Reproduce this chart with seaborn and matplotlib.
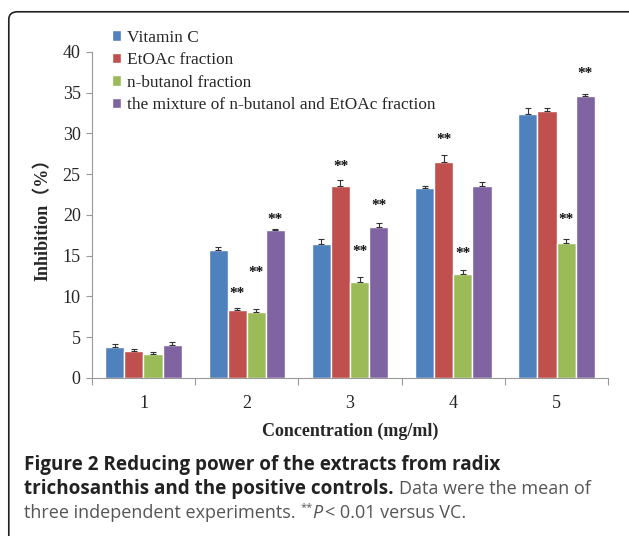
import pandas as pd
import matplotlib.pyplot as plt
import seaborn as sns
from matplotlib.patches import FancyBboxPatch
from matplotlib.ticker import FixedLocator

concentrations = ["1", "2", "3", "4", "5"]
series = ["Vitamin C", "EtOAc fraction", "n-butanol fraction",
          "the mixture of n-butanol and EtOAc fraction"]
vitamin_c = [3.8, 15.7, 16.4, 23.3, 32.4]
etoac = [3.3, 8.3, 23.6, 26.5, 32.7]
nbutanol = [2.9, 8.1, 11.8, 12.7, 16.6]
mixture = [4.0, 18.1, 18.5, 23.6, 34.6]
err_vc = [0.3, 0.4, 0.7, 0.3, 0.7]
err_etoac = [0.3, 0.3, 0.7, 0.8, 0.4]
err_nbut = [0.3, 0.3, 0.6, 0.5, 0.5]
err_mix = [0.4, 0.2, 0.5, 0.4, 0.3]
# (series index, concentration index, y of the "**" mark)
stars = [(1, 1, 10.4), (2, 1, 12.9), (3, 1, 19.4),
         (1, 2, 25.9), (2, 2, 15.5), (3, 2, 21.2),
         (1, 3, 29.2), (2, 3, 15.3),
         (2, 4, 19.4), (3, 4, 37.3)]

colors = ["#4F81BD", "#C0504D", "#9BBB59", "#8064A2"]
values = [vitamin_c, etoac, nbutanol, mixture]
errors = [err_vc, err_etoac, err_nbut, err_mix]

rows = []
for s, vals in zip(series, values):
    for c, v in zip(concentrations, vals):
        rows.append({"conc": c, "series": s, "value": v})
df = pd.DataFrame(rows)

sns.set_style("white")
serif = ["Liberation Serif", "Noto Sans CJK SC"]
plt.rcParams["font.family"] = serif

fig = plt.figure(figsize=(6.29, 5.36), dpi=100)
ax = fig.add_axes([0.146, 0.295, 0.821, 0.608])

sns.barplot(data=df, x="conc", y="value", hue="series", palette=colors,
            errorbar=None, width=0.74, saturation=1, ax=ax)
bar_groups = list(ax.containers)

# error bars (upper side only) and significance marks
for i, cont in enumerate(bar_groups):
    for j, bar in enumerate(cont):
        xc = bar.get_x() + bar.get_width() / 2
        ax.errorbar(xc, bar.get_height(), yerr=[[0], [errors[i][j]]],
                    fmt="none", ecolor="#333333", elinewidth=0.8,
                    capsize=2, capthick=0.8)
for i, j, y in stars:
    bar = bar_groups[i][j]
    xc = bar.get_x() + bar.get_width() / 2
    ax.text(xc, y, "**", ha="center", va="center", fontsize=11,
            fontweight="bold", color="#111111")

ax.set_ylim(0, 40)
ax.set_xlim(-0.5, 4.5)
ax.set_yticks(range(0, 41, 5))
ax.tick_params(axis="y", labelsize=13, length=4, width=0.8, color="#999999",
               left=True, pad=4)
ax.tick_params(axis="x", labelsize=13, length=0, pad=12)
ax.xaxis.set_minor_locator(FixedLocator([-0.5, 0.5, 1.5, 2.5, 3.5, 4.5]))
ax.tick_params(axis="x", which="minor", length=5, width=0.8,
               color="#999999", bottom=True)
sns.despine(ax=ax)
for sp in ["left", "bottom"]:
    ax.spines[sp].set_color("#999999")
    ax.spines[sp].set_linewidth(0.8)

ax.set_xlabel("Concentration (mg/ml)", fontsize=13, fontweight="bold",
              labelpad=8)
ax.set_ylabel("Inhibition（%）", fontsize=13, fontweight="bold", labelpad=8)

leg = ax.legend(loc="upper left", bbox_to_anchor=(0.025, 1.09), frameon=False,
                fontsize=12.4, handlelength=0.55, handleheight=0.55,
                handletextpad=0.35, labelspacing=0.38, borderaxespad=0)

# rounded frame around figure
frame = FancyBboxPatch((0.014, -0.05), 1.05, 1.028,
                       boxstyle="round,pad=0,rounding_size=0.014",
                       transform=fig.transFigure, fill=False,
                       edgecolor="#222222", linewidth=1.2)
fig.patches.append(frame)

# caption
cap = ["Open Sans", "DejaVu Sans"]
fs = 13.6
fs_reg = 13.0
fig.canvas.draw()
r = fig.canvas.get_renderer()


def put(x, y, s, **kw):
    t = fig.text(x, y, s, fontsize=kw.pop("fontsize", fs_reg), family=cap,
                 va="baseline", **kw)
    bb = t.get_window_extent(renderer=r)
    return bb.x1 / fig.bbox.width


x0 = 0.038
y1 = 1 - 470 / 536
y2 = 1 - 494 / 536
y3 = 1 - 518 / 536
put(x0, y1, "Figure 2 Reducing power of the extracts from radix",
    fontweight="bold", color="#222222", fontsize=fs)
x = put(x0, y2, "trichosanthis and the positive controls.",
        fontweight="bold", color="#222222", fontsize=fs)
put(x + 0.008, y2, "Data were the mean of", color="#555555")
x = put(x0, y3, "three independent experiments. ", color="#555555")
x = put(x, y3 + 0.014, "**", color="#555555", fontsize=8)
x = put(x, y3, "P", color="#555555", style="italic")
put(x + 0.004, y3, "< 0.01 versus VC.", color="#555555")

fig.savefig("out.png", dpi=100)
